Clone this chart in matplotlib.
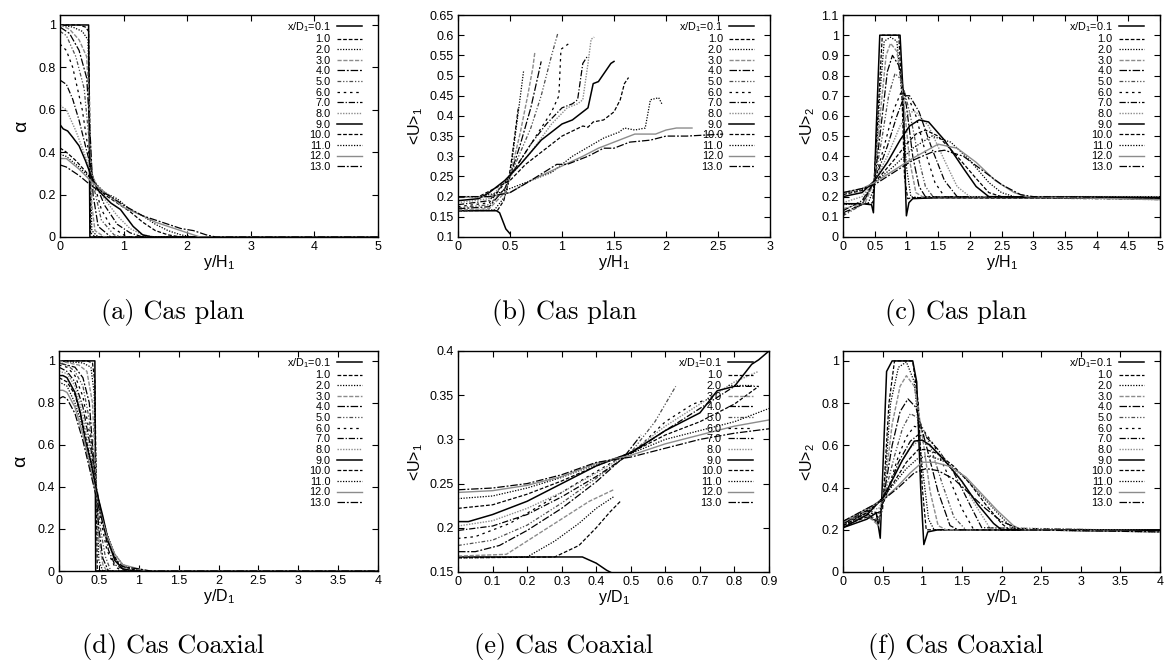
import matplotlib
matplotlib.use("Agg")
import matplotlib.pyplot as plt

plt.rcParams['font.family'] = ['Liberation Sans', 'DejaVu Sans']
plt.rcParams['mathtext.fontset'] = 'custom'
plt.rcParams['mathtext.rm'] = 'Liberation Sans'
plt.rcParams['mathtext.it'] = 'Liberation Sans:italic'

# stations x/D1
labels = ['x/D$_1$=0.1', '1.0', '2.0', '3.0', '4.0', '5.0', '6.0', '7.0',
          '8.0', '9.0', '10.0', '11.0', '12.0', '13.0']

# (a) alpha, cas plan
a_x = [
    [0, 0.45, 0.46, 0.47, 5],
    [0, 0.3, 0.4, 0.45, 0.47, 0.48, 0.55, 5],
    [0, 0.2, 0.35, 0.44, 0.47, 0.5, 0.6, 5],
    [0, 0.15, 0.3, 0.42, 0.47, 0.5, 0.55, 0.7, 5],
    [0, 0.15, 0.3, 0.42, 0.48, 0.52, 0.6, 0.8, 5],
    [0, 0.1, 0.25, 0.38, 0.46, 0.52, 0.65, 0.85, 1.0, 5],
    [0, 0.1, 0.2, 0.35, 0.45, 0.52, 0.65, 0.8, 1.0, 1.1, 5],
    [0, 0.1, 0.2, 0.3, 0.45, 0.52, 0.7, 0.9, 1.1, 1.3, 5],
    [0, 0.1, 0.25, 0.4, 0.52, 0.7, 0.9, 1.1, 1.3, 1.5, 5],
    [0, 0.05, 0.12, 0.2, 0.3, 0.4, 0.5, 0.6, 0.8, 0.95, 1.05, 1.15, 1.3, 1.45, 5],
    [0, 0.1, 0.25, 0.4, 0.5, 0.7, 0.9, 1.1, 1.3, 1.5, 1.7, 1.9, 5],
    [0, 0.1, 0.3, 0.5, 0.7, 0.9, 1.1, 1.3, 1.5, 1.7, 1.9, 2.1, 5],
    [0, 0.1, 0.3, 0.5, 0.75, 1.0, 1.3, 1.5, 1.8, 2.0, 2.2, 5],
    [0, 0.1, 0.3, 0.5, 0.8, 1.0, 1.3, 1.6, 1.9, 2.1, 2.3, 2.45, 5],
]
a_y = [
    [1, 1, 0.5, 0, 0],
    [1, 1, 0.99, 0.97, 0.5, 0.02, 0, 0],
    [1, 0.99, 0.97, 0.93, 0.5, 0.03, 0, 0],
    [1, 0.98, 0.93, 0.85, 0.55, 0.15, 0.03, 0, 0],
    [0.99, 0.96, 0.88, 0.75, 0.45, 0.2, 0.05, 0, 0],
    [0.97, 0.95, 0.85, 0.7, 0.45, 0.25, 0.08, 0.01, 0, 0],
    [0.91, 0.88, 0.8, 0.6, 0.4, 0.27, 0.13, 0.05, 0.01, 0, 0],
    [0.74, 0.72, 0.65, 0.55, 0.37, 0.28, 0.15, 0.06, 0.02, 0, 0],
    [0.62, 0.6, 0.5, 0.38, 0.28, 0.18, 0.1, 0.04, 0.01, 0, 0],
    [0.53, 0.51, 0.5, 0.47, 0.43, 0.36, 0.28, 0.22, 0.16, 0.13, 0.09, 0.05, 0.01, 0, 0],
    [0.42, 0.4, 0.36, 0.31, 0.27, 0.2, 0.16, 0.12, 0.07, 0.03, 0.01, 0, 0],
    [0.39, 0.38, 0.33, 0.27, 0.21, 0.18, 0.13, 0.1, 0.06, 0.03, 0.01, 0, 0],
    [0.37, 0.37, 0.32, 0.26, 0.2, 0.14, 0.1, 0.07, 0.04, 0.02, 0, 0],
    [0.34, 0.33, 0.29, 0.24, 0.19, 0.15, 0.1, 0.07, 0.04, 0.03, 0.01, 0, 0],
]

# (b) <U>1, cas plan
b_x = [
    [0, 0.37, 0.4, 0.43, 0.46, 0.5],
    [0, 0.38, 0.44, 0.48, 0.52, 0.58],
    [0, 0.35, 0.45, 0.5, 0.55, 0.6, 0.63],
    [0, 0.3, 0.45, 0.5, 0.6, 0.67, 0.72, 0.74],
    [0, 0.3, 0.45, 0.5, 0.6, 0.7, 0.77, 0.8],
    [0, 0.3, 0.45, 0.5, 0.6, 0.7, 0.8, 0.9, 0.96],
    [0, 0.3, 0.5, 0.65, 0.8, 0.9, 0.97, 0.99, 1.07],
    [0, 0.3, 0.5, 0.7, 0.85, 1.0, 1.1, 1.15, 1.2, 1.25],
    [0, 0.3, 0.5, 0.7, 0.9, 1.05, 1.15, 1.2, 1.25, 1.28, 1.31],
    [0, 0.2, 0.3, 0.45, 0.6, 0.8, 1.0, 1.1, 1.25, 1.3, 1.35, 1.47, 1.5],
    [0, 0.2, 0.35, 0.5, 0.65, 0.85, 1.0, 1.2, 1.25, 1.3, 1.4, 1.5, 1.56, 1.6, 1.64],
    [0, 0.2, 0.4, 0.6, 0.9, 1.1, 1.3, 1.4, 1.55, 1.6, 1.7, 1.8, 1.85, 1.93, 1.96],
    [0, 0.3, 0.5, 0.7, 0.95, 1.2, 1.35, 1.55, 1.7, 1.9, 2.0, 2.1, 2.25],
    [0, 0.3, 0.5, 0.7, 0.95, 1.05, 1.25, 1.4, 1.5, 1.65, 1.85, 2.0, 2.2, 2.55],
]
b_y = [
    [0.165, 0.165, 0.16, 0.14, 0.12, 0.108],
    [0.165, 0.166, 0.19, 0.23, 0.3, 0.42],
    [0.165, 0.167, 0.2, 0.25, 0.35, 0.45, 0.51],
    [0.167, 0.17, 0.21, 0.25, 0.36, 0.45, 0.52, 0.56],
    [0.17, 0.175, 0.22, 0.25, 0.33, 0.42, 0.5, 0.535],
    [0.172, 0.18, 0.22, 0.25, 0.31, 0.37, 0.45, 0.55, 0.605],
    [0.175, 0.185, 0.25, 0.31, 0.37, 0.41, 0.45, 0.565, 0.58],
    [0.18, 0.19, 0.25, 0.33, 0.38, 0.42, 0.43, 0.44, 0.53, 0.55],
    [0.185, 0.195, 0.25, 0.31, 0.38, 0.42, 0.43, 0.44, 0.53, 0.59, 0.595],
    [0.19, 0.195, 0.21, 0.24, 0.28, 0.34, 0.38, 0.39, 0.42, 0.48, 0.485, 0.53, 0.535],
    [0.2, 0.2, 0.22, 0.24, 0.28, 0.32, 0.35, 0.375, 0.372, 0.385, 0.39, 0.41, 0.44, 0.48, 0.495],
    [0.2, 0.2, 0.21, 0.23, 0.26, 0.3, 0.33, 0.345, 0.36, 0.37, 0.365, 0.37, 0.44, 0.445, 0.43],
    [0.2, 0.2, 0.21, 0.24, 0.27, 0.3, 0.32, 0.34, 0.355, 0.355, 0.365, 0.37, 0.37],
    [0.2, 0.2, 0.21, 0.24, 0.28, 0.28, 0.3, 0.32, 0.32, 0.335, 0.34, 0.35, 0.35, 0.355],
]

# (c) <U>2, cas plan
c_x = [
    [0, 0.3, 0.45, 0.48, 0.52, 0.58, 0.9, 0.95, 0.99, 1.0, 1.04, 1.1, 1.5, 5],
    [0, 0.4, 0.47, 0.55, 0.62, 0.88, 0.93, 0.97, 1.02, 1.1, 5],
    [0, 0.4, 0.5, 0.58, 0.65, 0.75, 0.85, 0.93, 1.0, 1.07, 1.2, 5],
    [0, 0.35, 0.5, 0.6, 0.68, 0.75, 0.85, 0.95, 1.05, 1.15, 1.25, 5],
    [0, 0.3, 0.5, 0.6, 0.7, 0.78, 0.88, 1.0, 1.1, 1.2, 1.3, 5],
    [0, 0.3, 0.5, 0.62, 0.72, 0.82, 0.92, 1.05, 1.2, 1.3, 1.42, 5],
    [0, 0.3, 0.5, 0.65, 0.8, 0.92, 1.02, 1.15, 1.3, 1.45, 1.6, 5],
    [0, 0.3, 0.5, 0.7, 0.85, 0.97, 1.05, 1.2, 1.4, 1.6, 1.8, 5],
    [0, 0.3, 0.5, 0.7, 0.9, 1.05, 1.15, 1.35, 1.6, 1.8, 2.0, 5],
    [0, 0.3, 0.5, 0.7, 0.9, 1.05, 1.2, 1.35, 1.6, 1.9, 2.1, 2.3, 5],
    [0, 0.3, 0.5, 0.8, 1.0, 1.15, 1.3, 1.5, 1.8, 2.1, 2.3, 2.5, 5],
    [0, 0.3, 0.5, 0.8, 1.1, 1.4, 1.7, 2.0, 2.3, 2.5, 2.7, 5],
    [0, 0.3, 0.5, 0.8, 1.1, 1.5, 1.8, 2.1, 2.4, 2.7, 2.9, 5],
    [0, 0.3, 0.5, 0.8, 1.1, 1.4, 1.6, 1.9, 2.2, 2.5, 2.8, 3.0, 5],
]
c_y = [
    [0.165, 0.165, 0.16, 0.12, 0.5, 1.0, 1.0, 0.7, 0.2, 0.105, 0.17, 0.19, 0.195, 0.195],
    [0.165, 0.165, 0.17, 0.6, 1.0, 1.0, 0.7, 0.3, 0.19, 0.195, 0.19],
    [0.16, 0.17, 0.25, 0.7, 0.97, 0.99, 0.97, 0.7, 0.35, 0.2, 0.195, 0.2],
    [0.14, 0.17, 0.28, 0.65, 0.9, 0.96, 0.92, 0.7, 0.38, 0.22, 0.2, 0.19],
    [0.12, 0.16, 0.28, 0.55, 0.82, 0.9, 0.85, 0.65, 0.4, 0.25, 0.2, 0.195],
    [0.105, 0.16, 0.28, 0.5, 0.7, 0.81, 0.78, 0.62, 0.38, 0.25, 0.2, 0.185],
    [0.11, 0.17, 0.28, 0.45, 0.63, 0.72, 0.7, 0.6, 0.42, 0.27, 0.2, 0.195],
    [0.13, 0.18, 0.28, 0.45, 0.6, 0.7, 0.7, 0.62, 0.44, 0.28, 0.2, 0.19],
    [0.17, 0.2, 0.28, 0.4, 0.55, 0.62, 0.62, 0.55, 0.38, 0.25, 0.2, 0.2],
    [0.2, 0.22, 0.28, 0.37, 0.48, 0.55, 0.58, 0.57, 0.48, 0.34, 0.25, 0.2, 0.195],
    [0.21, 0.23, 0.27, 0.38, 0.46, 0.51, 0.53, 0.5, 0.4, 0.29, 0.22, 0.2, 0.19],
    [0.215, 0.235, 0.27, 0.35, 0.44, 0.5, 0.47, 0.38, 0.27, 0.22, 0.2, 0.195],
    [0.22, 0.24, 0.27, 0.33, 0.39, 0.46, 0.44, 0.37, 0.28, 0.22, 0.2, 0.185],
    [0.22, 0.24, 0.26, 0.32, 0.38, 0.42, 0.43, 0.4, 0.33, 0.26, 0.21, 0.2, 0.195],
]

# (d) alpha, cas coaxial
d_x = [
    [0, 0.45, 0.455, 0.46, 4],
    [0, 0.35, 0.42, 0.45, 0.47, 0.48, 4],
    [0, 0.3, 0.4, 0.44, 0.47, 0.5, 0.55, 4],
    [0, 0.25, 0.35, 0.42, 0.46, 0.5, 0.55, 0.6, 4],
    [0, 0.2, 0.3, 0.38, 0.45, 0.5, 0.55, 0.62, 4],
    [0, 0.1, 0.2, 0.3, 0.38, 0.45, 0.52, 0.58, 0.65, 4],
    [0, 0.1, 0.2, 0.3, 0.4, 0.45, 0.52, 0.6, 0.7, 0.8, 4],
    [0, 0.1, 0.2, 0.3, 0.4, 0.47, 0.55, 0.62, 0.7, 0.85, 4],
    [0, 0.1, 0.2, 0.3, 0.4, 0.48, 0.55, 0.65, 0.75, 0.9, 4],
    [0, 0.05, 0.1, 0.2, 0.27, 0.33, 0.4, 0.47, 0.55, 0.62, 0.7, 0.8, 0.95, 4],
    [0, 0.1, 0.2, 0.3, 0.4, 0.5, 0.58, 0.66, 0.75, 0.9, 1.0, 4],
    [0, 0.1, 0.2, 0.3, 0.4, 0.5, 0.6, 0.7, 0.8, 0.95, 1.1, 4],
    [0, 0.05, 0.1, 0.2, 0.3, 0.4, 0.5, 0.6, 0.7, 0.8, 1.0, 1.1, 4],
    [0, 0.05, 0.1, 0.2, 0.3, 0.4, 0.5, 0.6, 0.7, 0.8, 1.0, 1.15, 4],
]
d_y = [
    [1, 1, 0.5, 0, 0],
    [1, 1, 0.99, 0.9, 0.3, 0, 0],
    [1, 0.99, 0.97, 0.85, 0.4, 0.05, 0, 0],
    [1, 0.98, 0.95, 0.8, 0.45, 0.15, 0.03, 0, 0],
    [0.99, 0.97, 0.92, 0.8, 0.45, 0.2, 0.06, 0, 0],
    [0.99, 0.98, 0.95, 0.88, 0.72, 0.45, 0.2, 0.07, 0, 0],
    [0.98, 0.97, 0.93, 0.83, 0.62, 0.45, 0.25, 0.1, 0.02, 0, 0],
    [0.97, 0.95, 0.9, 0.78, 0.58, 0.4, 0.23, 0.1, 0.03, 0, 0],
    [0.95, 0.94, 0.88, 0.74, 0.55, 0.37, 0.24, 0.1, 0.03, 0, 0],
    [0.93, 0.93, 0.92, 0.85, 0.75, 0.62, 0.52, 0.38, 0.26, 0.14, 0.05, 0.01, 0, 0],
    [0.92, 0.9, 0.84, 0.7, 0.52, 0.32, 0.2, 0.1, 0.03, 0.01, 0, 0],
    [0.9, 0.88, 0.8, 0.68, 0.5, 0.32, 0.18, 0.08, 0.03, 0.01, 0, 0],
    [0.86, 0.86, 0.85, 0.78, 0.65, 0.48, 0.3, 0.17, 0.08, 0.03, 0.01, 0, 0],
    [0.82, 0.83, 0.82, 0.75, 0.62, 0.46, 0.3, 0.15, 0.06, 0.02, 0.01, 0, 0],
]

# (e) <U>1, cas coaxial
e_x = [
    [0, 0.36, 0.4, 0.43, 0.45],
    [0, 0.28, 0.35, 0.4, 0.44, 0.47],
    [0, 0.2, 0.28, 0.35, 0.4, 0.45],
    [0, 0.14, 0.22, 0.3, 0.38, 0.45],
    [0, 0.05, 0.12, 0.2, 0.3, 0.4, 0.48, 0.53],
    [0, 0.1, 0.2, 0.3, 0.4, 0.5, 0.57, 0.63],
    [0, 0.05, 0.15, 0.25, 0.35, 0.45, 0.52, 0.6, 0.68, 0.72],
    [0, 0.1, 0.2, 0.3, 0.4, 0.5, 0.6, 0.7, 0.8, 0.87],
    [0, 0.1, 0.2, 0.3, 0.4, 0.5, 0.6, 0.7, 0.8, 0.87],
    [0, 0.03, 0.1, 0.2, 0.3, 0.4, 0.5, 0.6, 0.7, 0.75, 0.8, 0.85, 0.87, 0.9],
    [0, 0.1, 0.2, 0.3, 0.4, 0.5, 0.6, 0.7, 0.8, 0.87],
    [0, 0.1, 0.2, 0.3, 0.4, 0.5, 0.6, 0.7, 0.8, 0.9],
    [0, 0.1, 0.2, 0.3, 0.4, 0.5, 0.6, 0.7, 0.8, 0.9],
    [0, 0.1, 0.2, 0.3, 0.4, 0.5, 0.6, 0.7, 0.8, 0.9],
]
e_y = [
    [0.167, 0.167, 0.16, 0.152, 0.148],
    [0.166, 0.167, 0.18, 0.2, 0.218, 0.23],
    [0.166, 0.167, 0.185, 0.205, 0.222, 0.235],
    [0.168, 0.17, 0.19, 0.21, 0.23, 0.243],
    [0.173, 0.173, 0.18, 0.197, 0.222, 0.252, 0.28, 0.305],
    [0.18, 0.186, 0.203, 0.228, 0.256, 0.285, 0.32, 0.36],
    [0.188, 0.19, 0.205, 0.228, 0.252, 0.275, 0.29, 0.32, 0.34, 0.345],
    [0.197, 0.202, 0.215, 0.235, 0.258, 0.284, 0.31, 0.335, 0.36, 0.36],
    [0.202, 0.208, 0.222, 0.24, 0.262, 0.285, 0.315, 0.34, 0.365, 0.377],
    [0.207, 0.207, 0.215, 0.23, 0.25, 0.27, 0.285, 0.31, 0.33, 0.355, 0.36, 0.385, 0.39, 0.4],
    [0.222, 0.226, 0.238, 0.253, 0.27, 0.285, 0.305, 0.32, 0.34, 0.36],
    [0.233, 0.236, 0.245, 0.257, 0.272, 0.284, 0.3, 0.31, 0.32, 0.335],
    [0.24, 0.242, 0.248, 0.258, 0.273, 0.282, 0.295, 0.305, 0.315, 0.322],
    [0.243, 0.245, 0.25, 0.26, 0.274, 0.28, 0.29, 0.3, 0.307, 0.312],
]

# (f) <U>2, cas coaxial
f_x = [
    [0, 0.3, 0.42, 0.47, 0.55, 0.62, 0.88, 0.93, 0.98, 1.02, 1.07, 1.2, 4],
    [0, 0.3, 0.45, 0.5, 0.58, 0.65, 0.88, 0.95, 1.0, 1.05, 1.1, 1.2, 4],
    [0, 0.3, 0.45, 0.52, 0.6, 0.7, 0.8, 0.9, 1.0, 1.08, 1.15, 4],
    [0, 0.3, 0.45, 0.52, 0.62, 0.72, 0.8, 0.9, 1.0, 1.1, 1.2, 1.3, 4],
    [0, 0.3, 0.45, 0.52, 0.62, 0.72, 0.82, 0.92, 1.05, 1.2, 1.35, 1.45, 4],
    [0, 0.3, 0.45, 0.52, 0.65, 0.75, 0.85, 0.95, 1.1, 1.25, 1.4, 1.55, 4],
    [0, 0.3, 0.45, 0.55, 0.7, 0.8, 0.9, 1.0, 1.15, 1.3, 1.5, 1.65, 4],
    [0, 0.3, 0.45, 0.55, 0.7, 0.85, 0.95, 1.05, 1.2, 1.4, 1.6, 1.75, 4],
    [0, 0.3, 0.45, 0.55, 0.7, 0.85, 0.95, 1.05, 1.25, 1.45, 1.65, 1.85, 4],
    [0, 0.3, 0.5, 0.6, 0.75, 0.9, 1.0, 1.1, 1.3, 1.5, 1.7, 1.9, 2.0, 4],
    [0, 0.3, 0.5, 0.65, 0.8, 0.95, 1.05, 1.2, 1.4, 1.6, 1.8, 2.0, 2.1, 4],
    [0, 0.3, 0.5, 0.65, 0.8, 0.95, 1.1, 1.3, 1.5, 1.7, 1.9, 2.1, 2.2, 4],
    [0, 0.3, 0.5, 0.7, 0.85, 1.0, 1.15, 1.35, 1.55, 1.75, 1.95, 2.15, 2.25, 4],
    [0, 0.3, 0.5, 0.7, 0.9, 1.05, 1.2, 1.4, 1.6, 1.8, 2.0, 2.25, 4],
]
f_y = [
    [0.21, 0.25, 0.28, 0.16, 0.95, 1.0, 1.0, 0.9, 0.4, 0.13, 0.19, 0.2, 0.2],
    [0.22, 0.26, 0.24, 0.3, 0.8, 1.0, 1.0, 0.8, 0.4, 0.2, 0.2, 0.2, 0.195],
    [0.225, 0.27, 0.23, 0.38, 0.8, 0.97, 0.995, 0.9, 0.5, 0.25, 0.2, 0.195],
    [0.23, 0.27, 0.22, 0.38, 0.7, 0.88, 0.93, 0.88, 0.65, 0.38, 0.22, 0.2, 0.195],
    [0.23, 0.28, 0.23, 0.37, 0.6, 0.76, 0.82, 0.78, 0.6, 0.38, 0.22, 0.2, 0.195],
    [0.235, 0.28, 0.24, 0.36, 0.55, 0.68, 0.75, 0.73, 0.6, 0.42, 0.26, 0.2, 0.195],
    [0.235, 0.29, 0.26, 0.37, 0.55, 0.64, 0.69, 0.68, 0.6, 0.48, 0.3, 0.2, 0.195],
    [0.24, 0.29, 0.28, 0.37, 0.52, 0.62, 0.65, 0.64, 0.58, 0.47, 0.32, 0.21, 0.195],
    [0.24, 0.3, 0.3, 0.37, 0.5, 0.59, 0.62, 0.61, 0.55, 0.46, 0.33, 0.21, 0.195],
    [0.21, 0.27, 0.35, 0.42, 0.53, 0.62, 0.625, 0.6, 0.52, 0.43, 0.32, 0.23, 0.2, 0.195],
    [0.22, 0.28, 0.35, 0.43, 0.52, 0.58, 0.58, 0.56, 0.5, 0.42, 0.32, 0.23, 0.2, 0.195],
    [0.23, 0.29, 0.35, 0.42, 0.49, 0.54, 0.55, 0.52, 0.46, 0.38, 0.3, 0.22, 0.2, 0.19],
    [0.235, 0.3, 0.34, 0.41, 0.47, 0.52, 0.52, 0.5, 0.45, 0.37, 0.29, 0.22, 0.2, 0.19],
    [0.24, 0.3, 0.34, 0.4, 0.47, 0.49, 0.48, 0.44, 0.37, 0.3, 0.24, 0.2, 0.19],
]

captions = ['(a) Cas plan', '(b) Cas plan', '(c) Cas plan',
            '(d) Cas Coaxial', '(e) Cas Coaxial', '(f) Cas Coaxial']

# gnuplot-like monochrome line types
gray = '0.55'
styles = [
    ('k', '-', 1.1),
    ('k', (0, (3, 1.5)), 0.9),
    ('k', (0, (1, 1.2)), 0.9),
    (gray, (0, (3, 1.2)), 1.0),
    ('k', (0, (6, 1.5, 1.5, 1.5)), 0.9),
    ('0.3', (0, (3, 1.5, 1, 1.5, 1, 1.5)), 0.9),
    ('k', (0, (2, 3)), 0.9),
    ('k', (0, (5, 1.5, 1, 1.5)), 0.9),
    (gray, (0, (1, 1)), 1.0),
    ('k', '-', 1.1),
    ('k', (0, (3, 1.5)), 0.9),
    ('k', (0, (1, 1.2)), 0.9),
    (gray, '-', 1.0),
    ('k', (0, (6, 1.5, 1.5, 1.5)), 0.9),
]

W, H = 1171, 666
fig = plt.figure(figsize=(W / 100, H / 100), dpi=100)

# pixel boxes (left, top, right, bottom)
boxes = [(60, 15, 378, 237), (458, 15, 770, 237), (843, 15, 1160, 237),
         (59, 351, 378, 571), (458, 351, 769, 572), (843, 351, 1160, 572)]

panels = [
    (a_x, a_y, (0, 5), (0, 1.047), [0, 1, 2, 3, 4, 5], [0, 0.2, 0.4, 0.6, 0.8, 1], 'y/H$_1$', 'α'),
    (b_x, b_y, (0, 3), (0.1, 0.65), [0, 0.5, 1, 1.5, 2, 2.5, 3],
     [0.1, 0.15, 0.2, 0.25, 0.3, 0.35, 0.4, 0.45, 0.5, 0.55, 0.6, 0.65], 'y/H$_1$', '<U>$_1$'),
    (c_x, c_y, (0, 5), (0, 1.1), [0, 0.5, 1, 1.5, 2, 2.5, 3, 3.5, 4, 4.5, 5],
     [0, 0.1, 0.2, 0.3, 0.4, 0.5, 0.6, 0.7, 0.8, 0.9, 1, 1.1], 'y/H$_1$', '<U>$_2$'),
    (d_x, d_y, (0, 4), (0, 1.047), [0, 0.5, 1, 1.5, 2, 2.5, 3, 3.5, 4],
     [0, 0.2, 0.4, 0.6, 0.8, 1], 'y/D$_1$', 'α'),
    (e_x, e_y, (0, 0.9), (0.15, 0.4), [0, 0.1, 0.2, 0.3, 0.4, 0.5, 0.6, 0.7, 0.8, 0.9],
     [0.15, 0.2, 0.25, 0.3, 0.35, 0.4], 'y/D$_1$', '<U>$_1$'),
    (f_x, f_y, (0, 4), (0, 1.047), [0, 0.5, 1, 1.5, 2, 2.5, 3, 3.5, 4],
     [0, 0.2, 0.4, 0.6, 0.8, 1], 'y/D$_1$', '<U>$_2$'),
]

for i, (xs, ys, xl, yl, xt, yt, xlab, ylab) in enumerate(panels):
    l, t, r, b = boxes[i]
    ax = fig.add_axes([l / W, 1 - b / H, (r - l) / W, (b - t) / H])
    for k in range(14):
        col, ls, lw = styles[k]
        ax.plot(xs[k], ys[k], color=col, linestyle=ls, lw=lw, label=labels[k])
    ax.set_xlim(*xl)
    ax.set_ylim(*yl)
    ax.set_xticks(xt)
    ax.set_yticks(yt)
    ax.set_xticklabels([f'{v:g}' for v in xt])
    ax.set_yticklabels([f'{v:g}' for v in yt])
    ax.tick_params(direction='in', top=True, right=True, length=4, width=0.8,
                   labelsize=9, pad=3)
    for s in ax.spines.values():
        s.set_linewidth(1.0)
    ax.set_xlabel(xlab, fontsize=11.5, labelpad=0)
    if ylab == 'α':
        ax.set_ylabel(ylab, fontsize=14, labelpad=6)
    else:
        ax.set_ylabel(ylab, fontsize=11.5, labelpad=3)
    ax.legend(loc='upper right', bbox_to_anchor=(0.965, 1.0), frameon=False,
              markerfirst=False, fontsize=7.8, handlelength=2.3, handletextpad=0.6,
              labelspacing=0.06, borderaxespad=0.2, borderpad=0.25)
    cx = [173, 564, 956][i % 3]
    cy = [312, 646][i // 3]
    fig.text(cx / W, 1 - cy / H, captions[i], family='cmr10', fontsize=19,
             ha='center', va='center')

fig.savefig('out.png', dpi=100)
